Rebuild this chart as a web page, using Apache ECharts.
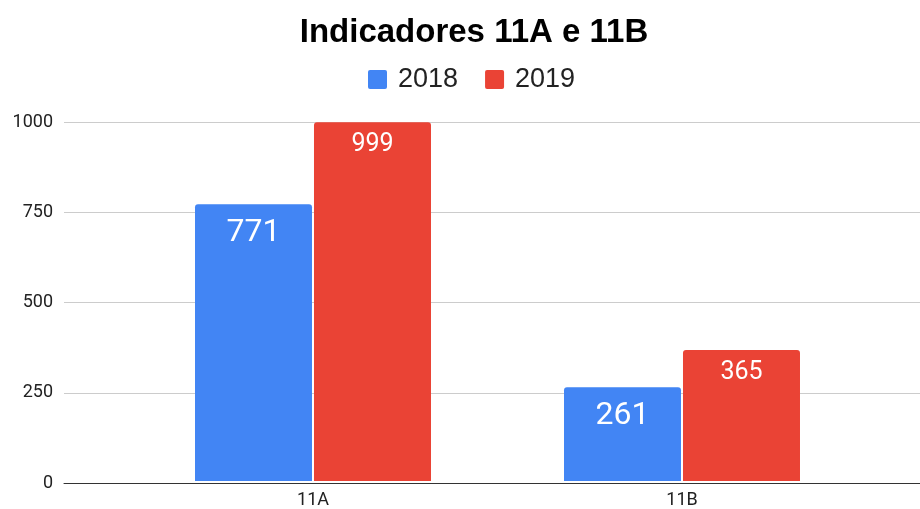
<!DOCTYPE html>
<html><head><meta charset="utf-8">
<script src="https://cdn.jsdelivr.net/npm/echarts@6/dist/echarts.min.js"></script>
<style>html,body{margin:0;padding:0;background:#fff}#c{width:920px;height:509px}</style>
</head><body><div id="c"></div>
<script>
const categories = ['11A', '11B'];
const seriesNames = ['2018', '2019'];
const values2018 = [771, 261];
const values2019 = [999, 365];
const yTicks = [0, 250, 500, 750, 1000];

const chart = echarts.init(document.getElementById('c'));
chart.setOption({
  animation: false,
  backgroundColor: '#fff',
  title: {
    text: 'Indicadores 11A e 11B', left: 469, textAlign: 'center', top: 11,
    textStyle: { fontFamily: 'Liberation Sans, Arial', fontWeight: 'bold', fontSize: 33, color: '#000' }
  },
  legend: {
    top: 61, left: 363, itemWidth: 19, itemHeight: 19, itemGap: 27,
    icon: 'path://M2,0 H17 Q19,0 19,2 V17 Q19,19 17,19 H2 Q0,19 0,17 V2 Q0,0 2,0 Z',
    textStyle: { fontFamily: 'Liberation Sans, Arial', fontSize: 27, color: '#222', padding: [0, 0, 0, 6] },
    data: seriesNames
  },
  grid: [
    { left: 64, right: 0, top: 122, bottom: 26 },
    { left: 128.5, right: 53.5, top: 122, bottom: 26 }
  ],
  xAxis: [
    { gridIndex: 0, type: 'value', min: 0, max: 1, show: true, axisLabel: { show: false },
      axisTick: { show: false }, splitLine: { show: false },
      axisLine: { show: true, lineStyle: { color: '#333', width: 1 } } },
    { gridIndex: 1, type: 'category', data: categories,
      axisLine: { show: false }, axisTick: { show: false },
      axisLabel: { fontFamily: 'Roboto', fontSize: 18, color: '#222', margin: 10 } }
  ],
  yAxis: [
    { gridIndex: 0, type: 'value', min: yTicks[0], max: yTicks[yTicks.length - 1], interval: 250,
      axisLine: { show: false }, axisTick: { show: false },
      axisLabel: { fontFamily: 'Roboto', fontSize: 18, color: '#222', margin: 11,
        formatter: v => String(v) },
      splitLine: { lineStyle: { color: '#ccc', width: 1 } } },
    { gridIndex: 1, type: 'value', min: yTicks[0], max: yTicks[yTicks.length - 1], show: false,
      splitLine: { show: false } }
  ],
  series: [
    { name: seriesNames[0], type: 'bar', xAxisIndex: 1, yAxisIndex: 1, data: values2018,
      barWidth: 117, barGap: '1.7%',
      itemStyle: { color: '#4285f4', borderRadius: [3, 3, 0, 0] },
      label: { show: true, position: 'insideTop', distance: 13, color: '#fff',
        fontFamily: 'Roboto', fontSize: 32 } },
    { name: seriesNames[1], type: 'bar', xAxisIndex: 1, yAxisIndex: 1, data: values2019,
      barWidth: 117,
      itemStyle: { color: '#ea4335', borderRadius: [3, 3, 0, 0] },
      label: { show: true, position: 'insideTop', distance: 10, color: '#fff',
        fontFamily: 'Roboto', fontSize: 25 } }
  ]
});
</script></body></html>
